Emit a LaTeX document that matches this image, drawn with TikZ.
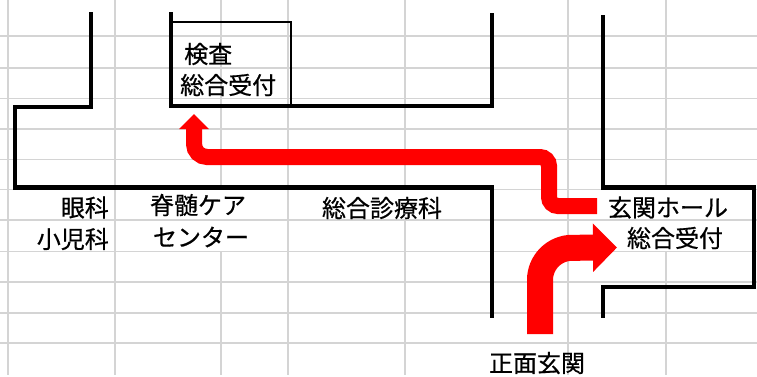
\documentclass[tikz,border=0pt]{standalone}
\usepackage{fontspec}
\newfontfamily\jp[FakeBold=0.6]{Noto Sans CJK JP}
\usetikzlibrary{arrows.meta}
\definecolor{gridgray}{RGB}{212,212,212}
\definecolor{arrowred}{RGB}{255,0,0}
\begin{document}
\begin{tikzpicture}[x=1pt,y=-1pt,
  gridline/.style={draw=gridgray,line width=1.5pt},
  wall/.style={draw=black,line width=4.6pt,line join=miter},
  thinbox/.style={draw=black,line width=1.2pt},
  lbl/.style={inner sep=0pt,font=\jp\fontsize{24}{28}\selectfont},
  redthin/.style={draw=arrowred,line width=16pt,-{Triangle[length=15pt,width=29pt]}},
  redthick/.style={draw=arrowred,line width=26pt,-{Triangle[length=24pt,width=47pt]}},
  ]
\useasboundingbox (0,0) rectangle (757,376);
\fill[white] (0,0) rectangle (757,376);

% spreadsheet grid
\foreach \y in {36,68,98.5,129,159.5,189.5,220,251.5,282,313,343}
  \draw[gridline] (0,\y) -- (757,\y);
\foreach \x in {8,115,288,568}
  \draw[gridline] (\x,0) -- (\x,375);
\foreach \x in {221,666}{
  \draw[gridline] (\x,0) -- (\x,189.5);
  \draw[gridline] (\x,251.5) -- (\x,375);}
\draw[gridline] (405,0) -- (405,189.5);
\draw[gridline] (405,220) -- (405,375);

% walls
\draw[wall] (91,12) -- (91,107) -- (15,107) -- (15,187.5) -- (492,187.5) -- (492,318);
\draw[wall] (171,12) -- (171,106) -- (492,106) -- (492,13);
\draw[wall] (603,15) -- (603,187.5) -- (754,187.5) -- (754,287) -- (603,287) -- (603,318);

% inspection reception box
\draw[thinbox] (171,22) rectangle (291,106);

% labels
\node[lbl,anchor=west] (kensa) at (184,54) {検査};
\node[lbl,anchor=west] (sogo1) at (180,85) {総合受付};
\node[lbl,anchor=east] (ganka) at (109,207.5) {眼科};
\node[lbl,anchor=east] (shoni) at (109,239) {小児科};
\node[lbl] (sekizui) at (198,205) {脊髄ケア};
\node[lbl] (centre) at (201,237) {センター};
\node[lbl] (sogoshin) at (382,208) {総合診療科};
\node[lbl] (genkan) at (668,207.5) {玄関ホール};
\node[lbl] (sogo2) at (675,238) {総合受付};
\node[lbl] (shomen) at (537,363) {正面玄関};

% red arrows
\coordinate (a1s) at (597,206);
\coordinate (a1e) at (194,114);
\draw[redthin,rounded corners=9pt] (a1s) -- (549,206) -- (549,157) [rounded corners=13pt] -- (194,157) -- (a1e);

\coordinate (a2s) at (540,334);
\coordinate (a2e) at (617,247.5);
\draw[redthick,rounded corners=32pt] (a2s) -- (540,248) -- (a2e);
\end{tikzpicture}
\end{document}
